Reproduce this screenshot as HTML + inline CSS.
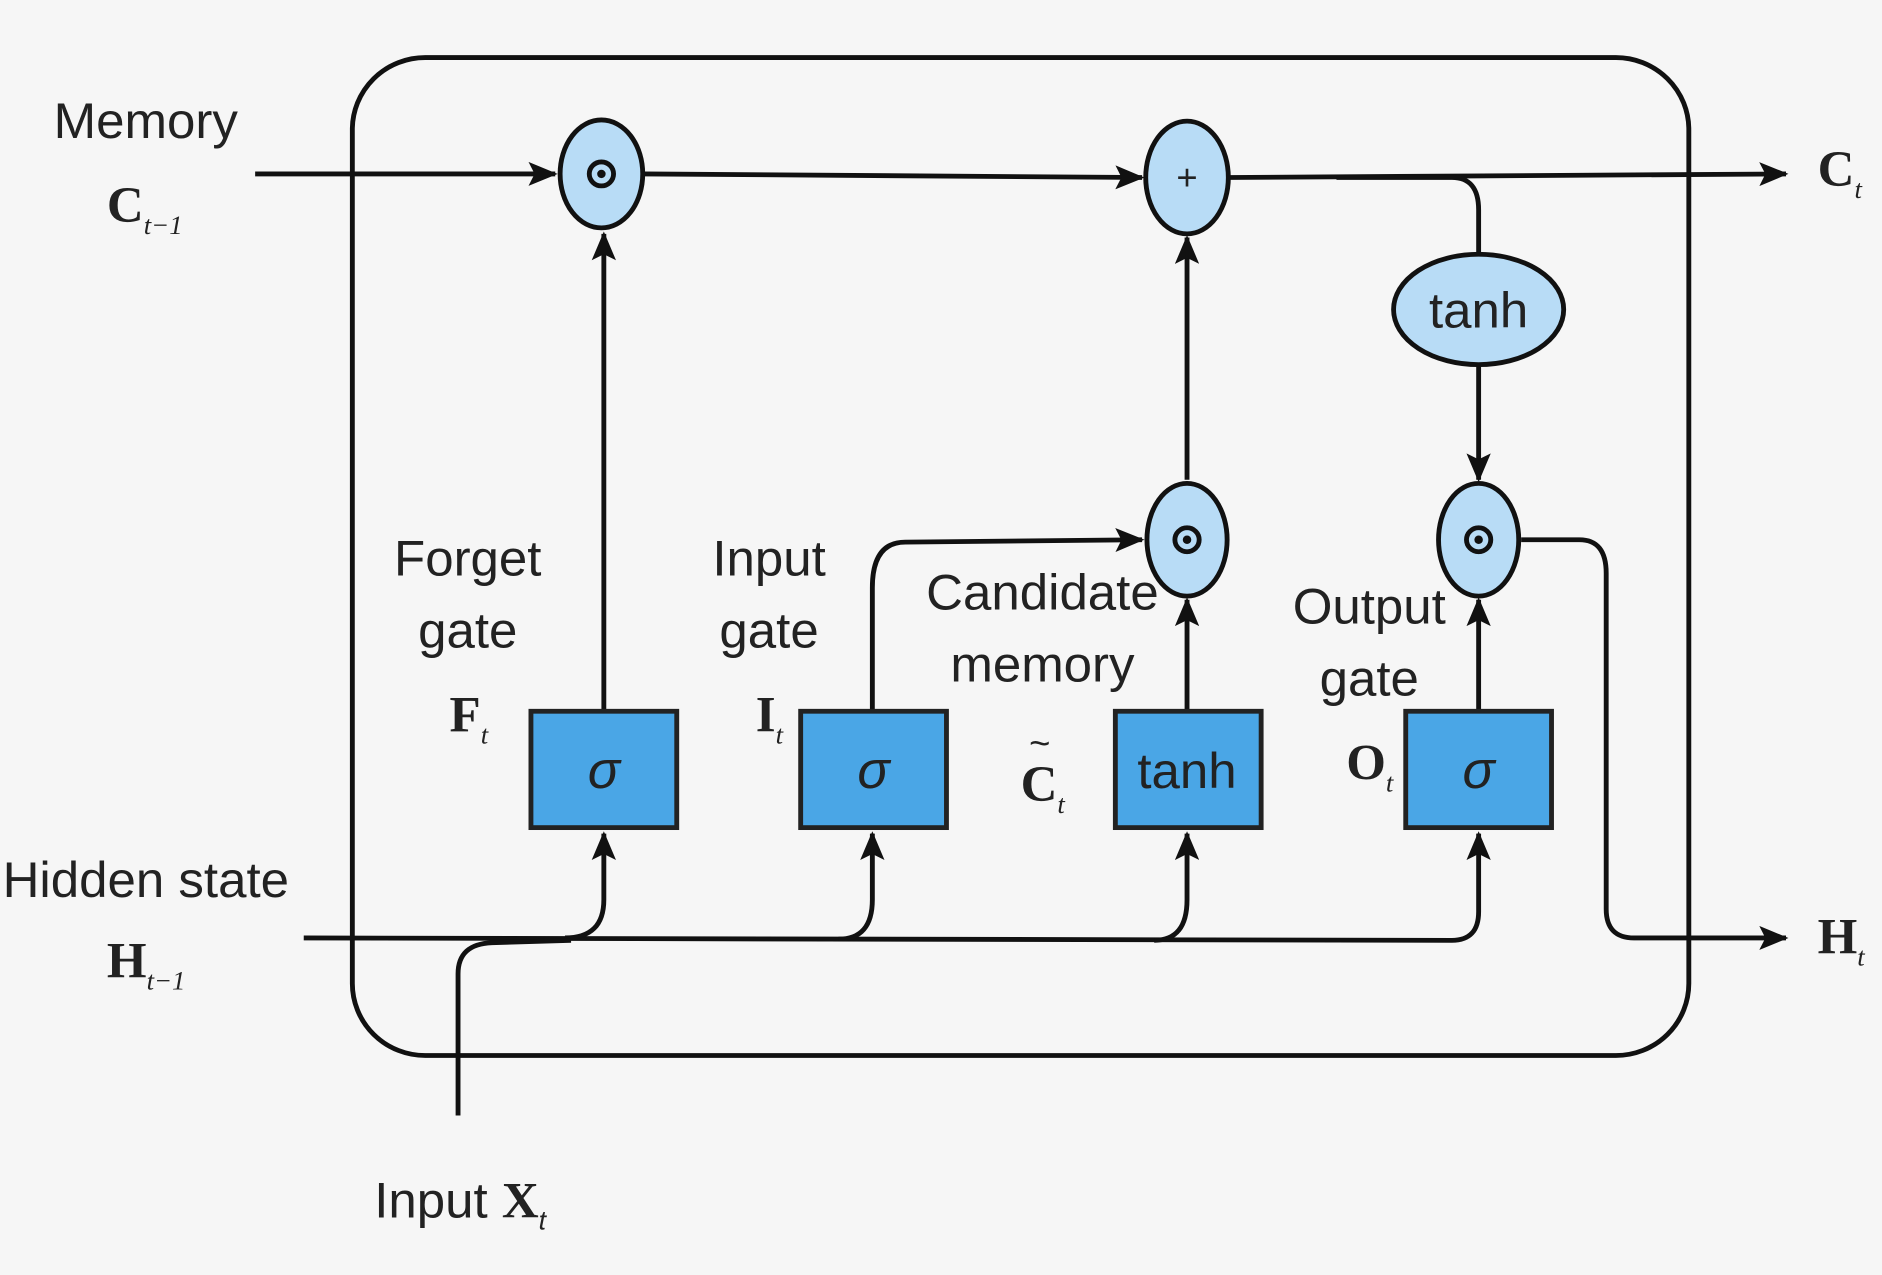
<!DOCTYPE html>
<html><head><meta charset="utf-8"><style>
html,body{margin:0;padding:0;background:#f6f6f6;}
svg{display:block;}
text{font-family:"Liberation Sans",sans-serif;fill:#222;}
.s{font-family:"Liberation Serif",serif;font-weight:bold;}
</style></head><body>
<svg width="1882" height="1275" viewBox="0 0 1549 1063" preserveAspectRatio="none" xmlns="http://www.w3.org/2000/svg">
<defs><marker id="a" markerWidth="10" markerHeight="10" refX="9" refY="5" orient="auto" markerUnits="userSpaceOnUse"><path d="M0,0 L10,5 L0,10 z" fill="#111"/></marker>
<marker id="b" markerWidth="24" markerHeight="20" refX="22" refY="10" orient="auto" markerUnits="userSpaceOnUse"><path d="M0,0 L24,10 L0,20 L5,10 z" fill="#111"/></marker></defs>
<rect x="0" y="0" width="1549" height="1063" fill="#f6f6f6"/>
<rect x="290" y="48" width="1100" height="832" rx="60" fill="none" stroke="#111" stroke-width="4"/>
<g stroke="#111" stroke-width="4" fill="none">
<path d="M210,145 L457,145" marker-end="url(#b)"/>
<path d="M530,145 L940,148" marker-end="url(#b)"/>
<path d="M1012,148 L1470,145" marker-end="url(#b)"/>
<path d="M1100,148 L1195,148 Q1217,148 1217,175 L1217,213"/>
<path d="M1217,304 L1217,400" marker-end="url(#b)"/>
<path d="M497,593 L497,195" marker-end="url(#b)"/>
<path d="M977,593 L977,500" marker-end="url(#b)"/>
<path d="M977,400 L977,198" marker-end="url(#b)"/>
<path d="M1217,593 L1217,500" marker-end="url(#b)"/>
<path d="M718,593 L718,490 Q718,452 745,452 L940,450" marker-end="url(#b)"/>
<path d="M1252,450 L1300,450 Q1322,450 1322,478 L1322,758 Q1322,782 1345,782 L1470,782" marker-end="url(#b)"/>
<path d="M250,782 L1195,784 Q1217,784 1217,760 L1217,695" marker-end="url(#b)"/>
<path d="M465,782 Q497,782 497,750 L497,695" marker-end="url(#b)"/>
<path d="M690,783 Q718,783 718,750 L718,695" marker-end="url(#b)"/>
<path d="M950,784 Q977,784 977,750 L977,695" marker-end="url(#b)"/>
<path d="M377,930 L377,812 Q377,787 405,786 L470,784"/>
</g>
<g stroke="#111" stroke-width="4" fill="#b8dcf6">
<ellipse cx="495" cy="145" rx="34" ry="45"/>
<ellipse cx="977" cy="148" rx="34" ry="47"/>
<ellipse cx="977" cy="450" rx="33" ry="47"/>
<ellipse cx="1217" cy="450" rx="33" ry="47"/>
<ellipse cx="1217" cy="258" rx="70" ry="46"/>
</g>
<g fill="none" stroke="#111" stroke-width="4">
<circle cx="495" cy="145" r="10"/><circle cx="977" cy="450" r="10"/><circle cx="1217" cy="450" r="10"/>
</g>
<g fill="#111"><circle cx="495" cy="145" r="3.5"/><circle cx="977" cy="450" r="3.5"/><circle cx="1217" cy="450" r="3.5"/></g>
<text x="977" y="158" font-size="30" text-anchor="middle">+</text>
<text x="1217" y="273" font-size="42" text-anchor="middle">tanh</text>
<g stroke="#222" stroke-width="4" fill="#4aa6e6">
<rect x="437" y="593" width="120" height="97"/>
<rect x="659" y="593" width="120" height="97"/>
<rect x="918" y="593" width="120" height="97"/>
<rect x="1157" y="593" width="120" height="97"/>
</g>
<g font-size="44" text-anchor="middle">
<text x="497" y="657" font-style="italic">σ</text>
<text x="719" y="657" font-style="italic">σ</text>
<text x="977" y="657" font-size="42">tanh</text>
<text x="1217" y="657" font-style="italic">σ</text>
<text x="120" y="115" font-size="42">Memory</text>
<text x="120" y="748" font-size="42">Hidden state</text>
<text x="385" y="480" font-size="42">Forget</text>
<text x="385" y="540" font-size="42">gate</text>
<text x="633" y="480" font-size="42">Input</text>
<text x="633" y="540" font-size="42">gate</text>
<text x="858" y="508" font-size="42">Candidate</text>
<text x="858" y="568" font-size="42">memory</text>
<text x="1127" y="520" font-size="42">Output</text>
<text x="1127" y="580" font-size="42">gate</text>
</g>
<g font-size="42">
<text x="88" y="185" class="s">C<tspan font-size="22" font-weight="normal" font-style="italic" dy="10">t−1</tspan></text>
<text x="88" y="815" class="s">H<tspan font-size="22" font-weight="normal" font-style="italic" dy="10">t−1</tspan></text>
<text x="1496" y="155" class="s">C<tspan font-size="22" font-weight="normal" font-style="italic" dy="10">t</tspan></text>
<text x="1496" y="795" class="s">H<tspan font-size="22" font-weight="normal" font-style="italic" dy="10">t</tspan></text>
<text x="370" y="610" class="s">F<tspan font-size="22" font-weight="normal" font-style="italic" dy="10">t</tspan></text>
<text x="622" y="610" class="s">I<tspan font-size="22" font-weight="normal" font-style="italic" dy="10">t</tspan></text>
<text x="840" y="668" class="s">C<tspan font-size="22" font-weight="normal" font-style="italic" dy="10">t</tspan></text>
<text x="847" y="630" font-size="30">~</text>
<text x="1108" y="650" class="s">O<tspan font-size="22" font-weight="normal" font-style="italic" dy="10">t</tspan></text>
<text x="308" y="1015">Input <tspan class="s">X</tspan><tspan font-size="22" font-style="italic" dy="10">t</tspan></text>
</g>
</svg>
</body></html>
